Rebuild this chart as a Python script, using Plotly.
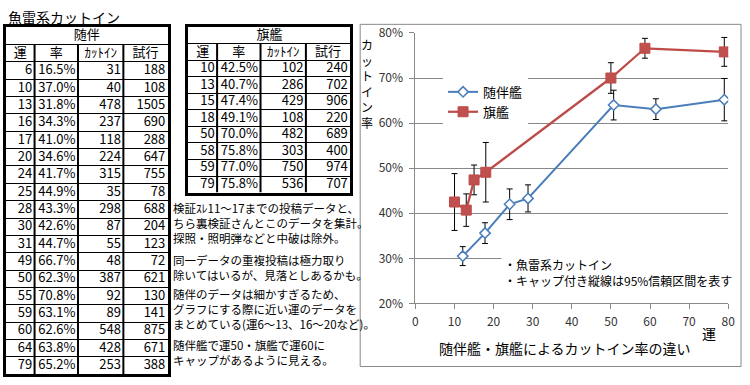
import plotly.graph_objects as go

W, H = 750, 385
JP = "Noto Sans CJK JP"

# ---------------- table data ----------------
escort_luck = [6, 10, 13, 16, 17, 20, 24, 25, 28, 30, 31, 49, 50, 55, 59, 60, 64, 79]
escort_rate = [16.5, 37.0, 31.8, 34.3, 41.0, 34.6, 41.7, 44.9, 43.3, 42.6, 44.7, 66.7, 62.3, 70.8, 63.1, 62.6, 63.8, 65.2]
escort_cutin = [31, 40, 478, 237, 118, 224, 315, 35, 298, 87, 55, 48, 387, 92, 89, 548, 428, 253]
escort_trials = [188, 108, 1505, 690, 288, 647, 755, 78, 688, 204, 123, 72, 621, 130, 141, 875, 671, 388]

flag_luck = [10, 13, 15, 18, 50, 58, 59, 79]
flag_rate = [42.5, 40.7, 47.4, 49.1, 70.0, 75.8, 77.0, 75.8]
flag_cutin = [102, 286, 429, 108, 482, 303, 750, 536]
flag_trials = [240, 702, 906, 220, 689, 400, 974, 707]

table_header = ["運", "率", "ｶｯﾄｲﾝ", "試行"]

# ---------------- chart data (grouped) ----------------
chart_escort_x = [12.1, 17.8, 24.1, 28.8, 50.7, 61.5, 79]
chart_escort_y = [0.305, 0.356, 0.420, 0.433, 0.640, 0.631, 0.652]
chart_escort_err = [0.021, 0.023, 0.034, 0.030, 0.033, 0.023, 0.047]

chart_flag_x = [10, 13, 15, 18, 50, 58.7, 79]
chart_flag_y = [0.425, 0.407, 0.474, 0.491, 0.700, 0.766, 0.758]
chart_flag_err = [0.063, 0.036, 0.033, 0.066, 0.034, 0.022, 0.032]

note_paragraphs = [
    ["検証ｽﾚ11～17までの投稿データと、",
     "ちら裏検証さんとこのデータを集計。",
     "探照・照明弾などと中破は除外。"],
    ["同一データの重複投稿は極力取り",
     "除いてはいるが、見落としあるかも。"],
    ["随伴のデータは細かすぎるため、",
     "グラフにする際に近い運のデータを",
     "まとめている(運6～13、16～20など)。"],
    ["随伴艦で運50・旗艦で運60に",
     "キャップがあるように見える。"],
]
note_tops = [198, 252, 288, 341]


def px(x):
    return x / W


def py(y):
    return (H - y) / H


fig = go.Figure()
shapes = []
annotations = []

COL_EDGES = [0, 29, 73, 119, 164]
TFONT = dict(family=JP, size=13, color="black")


def add_table(ax, title, luck, rate, cutin, trials):
    xa, ya = "x" + ax, "y" + ax
    cols = [luck, [f"{v:.1f}%" for v in rate], cutin, trials]
    nrows = len(luck) + 2
    fig.add_trace(go.Scatter(x=[COL_EDGES[-1] / 2], y=[0.52], text=[title], mode="text",
                             textfont=TFONT,
                             xaxis=xa, yaxis=ya, showlegend=False, hoverinfo="skip", cliponaxis=False))
    fig.add_trace(go.Scatter(x=[(COL_EDGES[j] + COL_EDGES[j + 1]) / 2 for j in range(4)],
                             y=[1.52] * 4, text=table_header, mode="text",
                             textfont=TFONT,
                             xaxis=xa, yaxis=ya, showlegend=False, hoverinfo="skip", cliponaxis=False))
    xs, ys, ts = [], [], []
    for j, col in enumerate(cols):
        for i, v in enumerate(col):
            xs.append(COL_EDGES[j + 1] - 2.5)
            ys.append(i + 2.52)
            ts.append(str(v))
    fig.add_trace(go.Scatter(x=xs, y=ys, text=ts, mode="text", textposition="middle left",
                             textfont=TFONT,
                             xaxis=xa, yaxis=ya, showlegend=False, hoverinfo="skip", cliponaxis=False))
    for e in COL_EDGES[1:-1]:
        shapes.append(dict(type="line", xref=xa, yref=ya, x0=e, x1=e, y0=1, y1=nrows,
                           line=dict(color="black", width=2)))
    return nrows


n_left = add_table("2", "随伴", escort_luck, escort_rate, escort_cutin, escort_trials)
n_right = add_table("3", "旗艦", flag_luck, flag_rate, flag_cutin, flag_trials)

# ---------------- chart traces ----------------
fig.add_trace(go.Scatter(
    x=chart_escort_x, y=chart_escort_y, name="随伴艦", mode="lines+markers",
    line=dict(color="#4A7EBB", width=2),
    marker=dict(symbol="diamond", size=8, color="white", line=dict(color="#4A7EBB", width=1.5)),
    error_y=dict(type="data", array=chart_escort_err, color="black", thickness=1, width=3),
    xaxis="x", yaxis="y",
))
fig.add_trace(go.Scatter(
    x=chart_flag_x, y=chart_flag_y, name="旗艦", mode="lines+markers",
    line=dict(color="#BE4B48", width=2.25),
    marker=dict(symbol="square", size=10, color="#C0504D", line=dict(color="#BE4B48", width=1)),
    error_y=dict(type="data", array=chart_flag_err, color="black", thickness=1, width=3),
    xaxis="x", yaxis="y",
))

# chart frame
shapes.append(dict(type="rect", xref="paper", yref="paper",
                   x0=px(362), x1=px(748), y0=py(373), y1=py(15),
                   line=dict(color="#888888", width=1), layer="below"))
# legend box background (hides gridline behind the legend)
shapes.append(dict(type="rect", xref="paper", yref="paper",
                   x0=px(445), x1=px(538), y0=py(121), y1=py(74),
                   line=dict(width=0), fillcolor="white", layer="between"))


def ann(x, y, text, size=14, xanchor="center", yanchor="middle", **kw):
    annotations.append(dict(x=px(x), y=py(y), xref="paper", yref="paper",
                            xanchor=xanchor, yanchor=yanchor, text=text, showarrow=False,
                            font=dict(family=JP, size=size, color="black"), **kw))


ann(3, 7, "魚雷系カットイン", 14, xanchor="left")
for para, top in zip(note_paragraphs, note_tops):
    ann(171, top, "<br>".join(para), 11.5, xanchor="left", yanchor="top", align="left",
        borderpad=0)
ann(369, 77, "<br>".join("カットイン率"), 12)
ann(716, 338, "運", 14)
ann(570, 354, "随伴艦・旗艦によるカットイン率の違い", 14)
ann(505, 275, "・魚雷系カットイン<br>・キャップ付き縦線は95%信頼区間を表す", 12,
    xanchor="left", align="left", bgcolor="white", borderpad=2)


def table_axes(x0, x1, y0, y1, nrows):
    xa = dict(domain=[px(x0), px(x1)], range=[0, COL_EDGES[-1]], showgrid=False, zeroline=False,
              showticklabels=False, ticks="", showline=True, mirror=True, linecolor="black",
              linewidth=3, fixedrange=True)
    ya = dict(domain=[py(y1), py(y0)], range=[nrows, 0], tickvals=list(range(1, nrows)),
              showgrid=True, gridcolor="black", gridwidth=1, zeroline=False,
              showticklabels=False, ticks="", showline=True, mirror=True, linecolor="black",
              linewidth=3, fixedrange=True)
    return xa, ya


xa2, ya2 = table_axes(3, 167, 18, 381, n_left)
xa3, ya3 = table_axes(188, 352, 18, 191, n_right)
ya2["anchor"] = "x2"
xa2["anchor"] = "y2"
ya3["anchor"] = "x3"
xa3["anchor"] = "y3"

fig.update_layout(
    width=W, height=H, autosize=False,
    margin=dict(l=0, r=0, t=0, b=0),
    paper_bgcolor="white", plot_bgcolor="white",
    font=dict(family=JP, color="black"),
    xaxis=dict(domain=[px(418), px(735)], range=[0, 80], dtick=10,
               showline=True, linecolor="#888888", linewidth=1,
               ticks="outside", ticklen=5, tickcolor="#888888",
               showgrid=False, zeroline=False, ticklabelstandoff=2,
               tickfont=dict(family=JP, size=12, color="#333333")),
    yaxis=dict(domain=[py(307), py(24)], range=[0.2, 0.8], dtick=0.1, tickformat=".0%",
               showline=True, linecolor="#888888", linewidth=1,
               ticks="outside", ticklen=5, tickcolor="#888888",
               showgrid=True, gridcolor="#888888", gridwidth=1, zeroline=False,
               ticklabelstandoff=4,
               tickfont=dict(family=JP, size=12, color="#333333")),
    xaxis2=xa2, yaxis2=ya2, xaxis3=xa3, yaxis3=ya3,
    showlegend=True,
    legend=dict(x=px(446), y=py(70), xanchor="left", yanchor="top",
                bgcolor="white", borderwidth=0,
                font=dict(family=JP, size=13, color="black"),
                itemwidth=30, tracegroupgap=0),
    shapes=shapes,
    annotations=annotations,
)

fig.write_html("out.html", config={"displayModeBar": False},
               post_script="document.body.style.margin='0px';")
